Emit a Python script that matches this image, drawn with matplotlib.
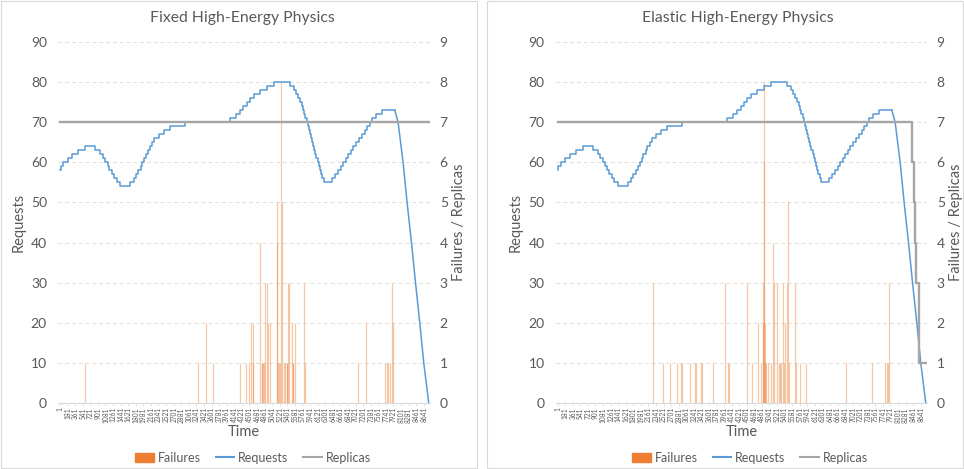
import numpy as np
import matplotlib.pyplot as plt
from matplotlib.patches import Patch, Rectangle
from matplotlib.lines import Line2D

plt.rcParams['font.family'] = ['Lato', 'DejaVu Sans']

# Requests (same workload in both charts): hour where the level changes -> new level
req_t = [1, 20, 79, 184, 293, 435, 594, 832, 951, 1015, 1069, 1133, 1171, 1228, 1283,
         1347, 1425, 1663, 1751, 1805, 1860, 1917, 1955, 2002, 2043, 2097, 2138, 2192,
         2240, 2351, 2470, 2612, 2968, 4037, 4179, 4274, 4353, 4433, 4512, 4607, 4749,
         4922, 5088, 5461, 5556, 5611, 5658, 5699, 5739, 5770, 5801, 5829, 5858, 5884,
         5910, 5936, 5962, 5988, 6014, 6040, 6067, 6093, 6119, 6145, 6173, 6202, 6235,
         6275, 6451, 6530, 6608, 6665, 6727, 6784, 6845, 6902, 6964, 7028, 7099, 7178,
         7249, 7296, 7360, 7401, 7503, 7638, 7954]
req_v = [58, 59, 60, 61, 62, 63, 64, 63, 62, 61, 60, 59, 58, 57, 56,
         55, 54, 55, 56, 57, 58, 59, 60, 61, 62, 63, 64, 65,
         66, 67, 68, 69, 70, 71, 72, 73, 74, 75, 76, 77, 78,
         79, 80, 79, 78, 77, 76, 75, 74, 73, 72, 71, 70, 69,
         68, 67, 66, 65, 64, 63, 62, 61, 60, 59, 58, 57, 56,
         55, 56, 57, 58, 59, 60, 61, 62, 63, 64, 65, 66, 67,
         68, 69, 70, 71, 72, 73, 73]
# final ramp down
drop_t = [7954, 8032, 8151, 8246, 8350, 8446, 8547, 8642, 8760]
drop_v = [73, 70, 60, 50, 40, 30, 20, 10, 0]

# Failures per hour
fixed_fail_t = [594, 3284, 3460, 3640, 4282, 4410, 4495, 4528, 4576, 4590, 4756, 4789,
                4808, 4827, 4848, 4875, 4908, 4932, 4986, 5146, 5160, 5176, 5200, 5224,
                5255, 5272, 5326, 5350, 5383, 5402, 5421, 5445, 5509, 5525, 5540, 5580,
                5801, 5818, 7083, 7273, 7733, 7764, 7800, 7835, 7890, 7914]
fixed_fail_n = [1, 1, 2, 1, 1, 1, 1, 2, 2, 1, 4, 1,
                1, 1, 1, 3, 3, 2, 2, 4, 5, 1, 1, 1,
                8, 5, 1, 1, 1, 1, 3, 3, 2, 1, 1, 2,
                3, 1, 1, 2, 1, 1, 1, 1, 3, 2]

elastic_fail_t = [2271, 2508, 2674, 2840, 2945, 2959, 3149, 3260, 3301, 3415, 3432, 3695,
                  3989, 4051, 4075, 4507, 4618, 4768, 4844, 4882, 4894, 4906, 4922, 4934,
                  4946, 4963, 5017, 5081, 5124, 5160, 5212, 5266, 5290, 5314, 5354, 5378,
                  5409, 5452, 5485, 5516, 5653, 5682, 5765, 5908, 6862, 7470, 7795, 7836,
                  7873, 7897]
elastic_fail_n = [3, 1, 1, 1, 1, 1, 1, 1, 1, 1, 1, 1,
                  3, 1, 1, 3, 1, 2, 1, 3, 2, 8, 6, 2,
                  1, 1, 1, 1, 4, 3, 3, 1, 1, 1, 3, 1,
                  2, 3, 5, 1, 3, 1, 1, 1, 1, 1, 1, 1,
                  1, 3]

# Replicas
fixed_rep_t = [1, 8760]
fixed_rep_v = [7, 7]
elastic_rep_t = [1, 8443, 8476, 8507, 8538, 8602, 8760]
elastic_rep_v = [7, 6, 5, 4, 3, 1, 1]

tick_hours = list(range(1, 8761, 180))

C_FAIL = '#ED7D31'
C_REQ = '#5B9BD5'
C_REP = '#A5A5A5'
C_TXT = '#595959'

fig = plt.figure(figsize=(9.64, 4.69), dpi=100)


def draw(left, right, title, fail_t, fail_n, rep_t, rep_v, cx, lx):
    ax = fig.add_axes([left, 0.1407, right - left, 0.7697])
    ax2 = ax.twinx()

    ax.step(req_t, req_v, where='post', color=C_REQ, lw=1.1, zorder=3)
    ax.plot(drop_t, drop_v, color=C_REQ, lw=1.1, zorder=3)

    ax2.vlines(fail_t, 0, fail_n, color=C_FAIL, lw=0.9, alpha=0.42)
    ax2.step(rep_t, rep_v, where='post', color=C_REP, lw=1.7)

    ax.set_xlim(-46, 8790)
    ax.set_ylim(0, 90)
    ax2.set_ylim(0, 9)
    ax.set_yticks(range(0, 91, 10))
    ax2.set_yticks(range(0, 10))
    ax.grid(axis='y', color='#DEDEDE', ls=(0, (4, 3)), lw=0.7)
    ax.set_xticks(tick_hours)
    ax.set_xticklabels([str(h) for h in tick_hours], rotation=90, fontsize=4.7,
                       color=C_TXT)
    ax.tick_params(axis='x', length=2, width=0.5, color='#D9D9D9', pad=1)
    ax.tick_params(axis='y', length=0, labelsize=10, labelcolor=C_TXT, pad=8)
    ax2.tick_params(axis='y', length=0, labelsize=10, labelcolor=C_TXT, pad=7)
    for a in (ax, ax2):
        for s in a.spines.values():
            s.set_visible(False)
    ax.spines['bottom'].set_visible(True)
    ax.spines['bottom'].set_color('#D9D9D9')
    ax.set_ylabel('Requests', fontsize=10.5, color=C_TXT, labelpad=4)
    ax2.set_ylabel('Failures / Replicas', fontsize=10.5, color=C_TXT, labelpad=3)
    ax.set_xlabel('Time', fontsize=10.5, color=C_TXT, labelpad=2)

    fig.text(cx, 0.962, title, ha='center', va='center', fontsize=11.3, color=C_TXT)
    handles = [Patch(color=C_FAIL), Line2D([], [], color=C_REQ, lw=1.5),
               Line2D([], [], color=C_REP, lw=1.5)]
    fig.legend(handles, ['Failures', 'Requests', 'Replicas'], loc='center',
               bbox_to_anchor=(lx, 0.024), ncol=3, frameon=False, fontsize=9,
               labelcolor=C_TXT, handlelength=1.5, columnspacing=1.2,
               handletextpad=0.3, handleheight=0.8)


draw(58 / 964, 430 / 964, 'Fixed High-Energy Physics',
     fixed_fail_t, fixed_fail_n, fixed_rep_t, fixed_rep_v, 242 / 964, 253 / 964)
draw(555.7 / 964, 927 / 964, 'Elastic High-Energy Physics',
     elastic_fail_t, elastic_fail_n, elastic_rep_t, elastic_rep_v, 738 / 964, 750 / 964)

for x0, w in ((0.001, 0.494), (0.505, 0.494)):
    fig.add_artist(Rectangle((x0, 0.003), w, 0.994, transform=fig.transFigure,
                             fill=False, ec='#D9D9D9', lw=0.8))

fig.savefig('out.png', dpi=100)
